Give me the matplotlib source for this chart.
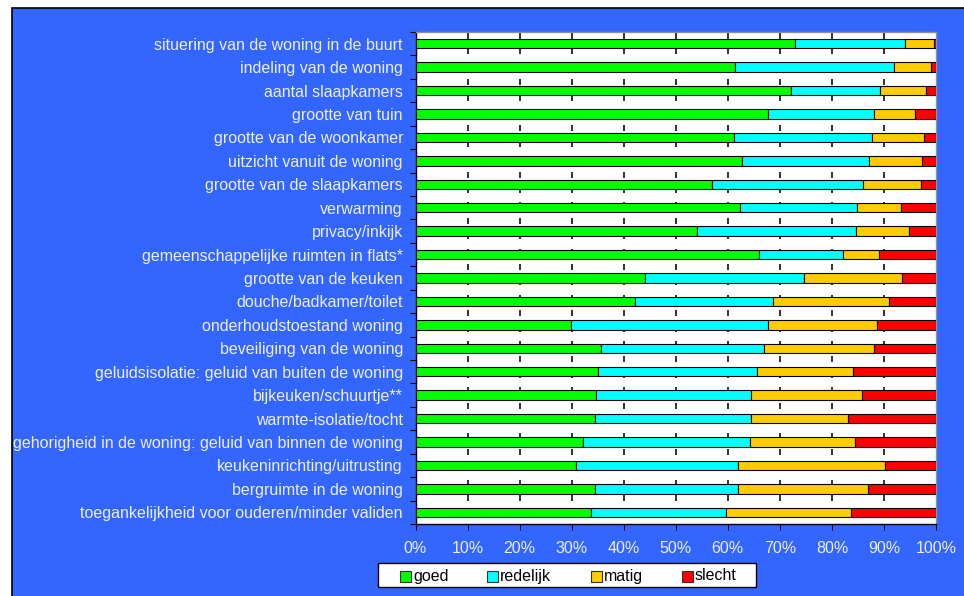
import numpy as np
import matplotlib
matplotlib.use("Agg")
import matplotlib.pyplot as plt
import matplotlib.patches as mpatches

plt.rcParams["font.family"] = ["Liberation Sans", "DejaVu Sans"]

# categorieën (van boven naar beneden)
categories = [
    "situering van de woning in de buurt",
    "indeling van de woning",
    "aantal slaapkamers",
    "grootte van tuin",
    "grootte van de woonkamer",
    "uitzicht vanuit de woning",
    "grootte van de slaapkamers",
    "verwarming",
    "privacy/inkijk",
    "gemeenschappelijke ruimten in flats*",
    "grootte van de keuken",
    "douche/badkamer/toilet",
    "onderhoudstoestand woning",
    "beveiliging van de woning",
    "geluidsisolatie: geluid van buiten de woning",
    "bijkeuken/schuurtje**",
    "warmte-isolatie/tocht",
    "gehorigheid in de woning: geluid van binnen de woning",
    "keukeninrichting/uitrusting",
    "bergruimte in de woning",
    "toegankelijkheid voor ouderen/minder validen",
]

# percentages per oordeel
goed = [73.0, 61.4, 72.1, 67.8, 61.1, 62.8, 56.9, 62.4, 54.1, 66.0, 44.1,
        42.1, 29.8, 35.6, 35.1, 34.7, 34.4, 32.2, 30.9, 34.4, 33.8]
redelijk = [21.1, 30.6, 17.2, 20.3, 26.7, 24.3, 29.1, 22.4, 30.6, 16.2, 30.6,
            26.6, 38.0, 31.3, 30.6, 29.8, 30.1, 32.0, 31.1, 27.5, 25.8]
matig = [5.5, 7.0, 8.7, 7.9, 9.8, 10.2, 11.2, 8.4, 10.2, 6.9, 18.8,
         22.2, 20.9, 21.1, 18.3, 21.3, 18.5, 20.2, 28.2, 25.0, 24.1]
slecht = [0.4, 1.0, 2.0, 4.0, 2.4, 2.7, 2.8, 6.8, 5.1, 10.9, 6.5,
          9.1, 11.3, 12.0, 16.0, 14.2, 17.0, 15.6, 9.8, 13.1, 16.3]

series_names = ["goed", "redelijk", "matig", "slecht"]
series_colors = ["#00FF00", "#00FFFF", "#FFCC00", "#FF0000"]
x_ticks = [0, 10, 20, 30, 40, 50, 60, 70, 80, 90, 100]
x_ticklabels = [f"{t}%" for t in x_ticks]

BLUE = "#3366FF"
TXT = "#EEEEFF"
W, H = 964, 596
AX_TOP, AX_BOTTOM = 32, 524

fig = plt.figure(figsize=(W / 100, H / 100), dpi=100)
fig.patch.set_facecolor("white")

# blauw paneel met zwarte rand links/boven
panel = mpatches.Rectangle((12 / W, -0.01), 1.0, (H - 8) / H + 0.01,
                           transform=fig.transFigure, facecolor=BLUE,
                           edgecolor="black", linewidth=1.2, zorder=-5)
fig.patches.append(panel)

ax = fig.add_axes([415.5 / W, (H - AX_BOTTOM) / H, (936 - 415.5) / W,
                   (AX_BOTTOM - AX_TOP) / H])
ax.set_facecolor("white")

n = len(categories)
y = np.arange(n)
left = np.zeros(n)
for name, vals, col in zip(series_names, [goed, redelijk, matig, slecht], series_colors):
    ax.barh(y, vals, left=left, height=0.4, color=col, edgecolor="black",
            linewidth=0.8, label=name, zorder=3)
    left += np.array(vals)

ax.set_xlim(0, 100)
ax.set_ylim(n - 0.5, -0.5)

# verticale stippellijnen: korte streepjes in de witte ruimte tussen de balken
row_px = (AX_BOTTOM - AX_TOP) / n
d0 = -0.5 + np.arange(1, AX_BOTTOM - AX_TOP, 15.4) / row_px
d1 = np.minimum(d0 + 6 / row_px, n - 0.5)
for t in x_ticks[1:-1]:
    for a, b in zip(d0, d1):
        ax.plot([t, t], [a, b], color="#222222", linewidth=1.3,
                solid_capstyle="butt", zorder=2.5)

ax.set_xlim(0, 100)
ax.set_ylim(n - 0.5, -0.5)

ax.set_xticks(x_ticks)
ax.set_xticklabels(x_ticklabels, fontsize=11.5, color=TXT)
ax.tick_params(axis="x", direction="out", length=4, color="black", pad=8)

# y-ticks op de grenzen, labels in het midden
ax.set_yticks(np.arange(n + 1) - 0.5)
ax.set_yticklabels([])
ax.set_yticks(y, minor=True)
ax.set_yticklabels(categories, minor=True, fontsize=11.5, color=TXT)
ax.tick_params(axis="y", which="major", direction="out", length=4, color="black")
ax.tick_params(axis="y", which="minor", length=0, pad=9)

for side in ["left", "bottom"]:
    ax.spines[side].set_color("black")
    ax.spines[side].set_linewidth(1.0)
for side in ["top", "right"]:
    ax.spines[side].set_color("#909090")
    ax.spines[side].set_linewidth(1.0)

# legenda (Excel-stijl, handmatig geplaatst)
box_x0, box_x1, box_y0, box_y1 = 378, 756, 563, 587
fig.patches.append(mpatches.Rectangle(
    (box_x0 / W, (H - box_y1) / H), (box_x1 - box_x0) / W, (box_y1 - box_y0) / H,
    transform=fig.transFigure, facecolor="white", edgecolor="black",
    linewidth=1.0, zorder=5))
marker_x = [400, 487, 591, 682]
yc = (box_y0 + box_y1) / 2 + 1
for mx, name, col in zip(marker_x, series_names, series_colors):
    fig.patches.append(mpatches.Rectangle(
        (mx / W, (H - yc - 5.5) / H), 11 / W, 11 / H,
        transform=fig.transFigure, facecolor=col, edgecolor="#333333",
        linewidth=0.8, zorder=6))
    fig.text((mx + 13) / W, (H - yc) / H, name, fontsize=11.5, color="black",
             va="center", ha="left", zorder=6)

fig.savefig("out.png", dpi=100, facecolor=fig.get_facecolor())
